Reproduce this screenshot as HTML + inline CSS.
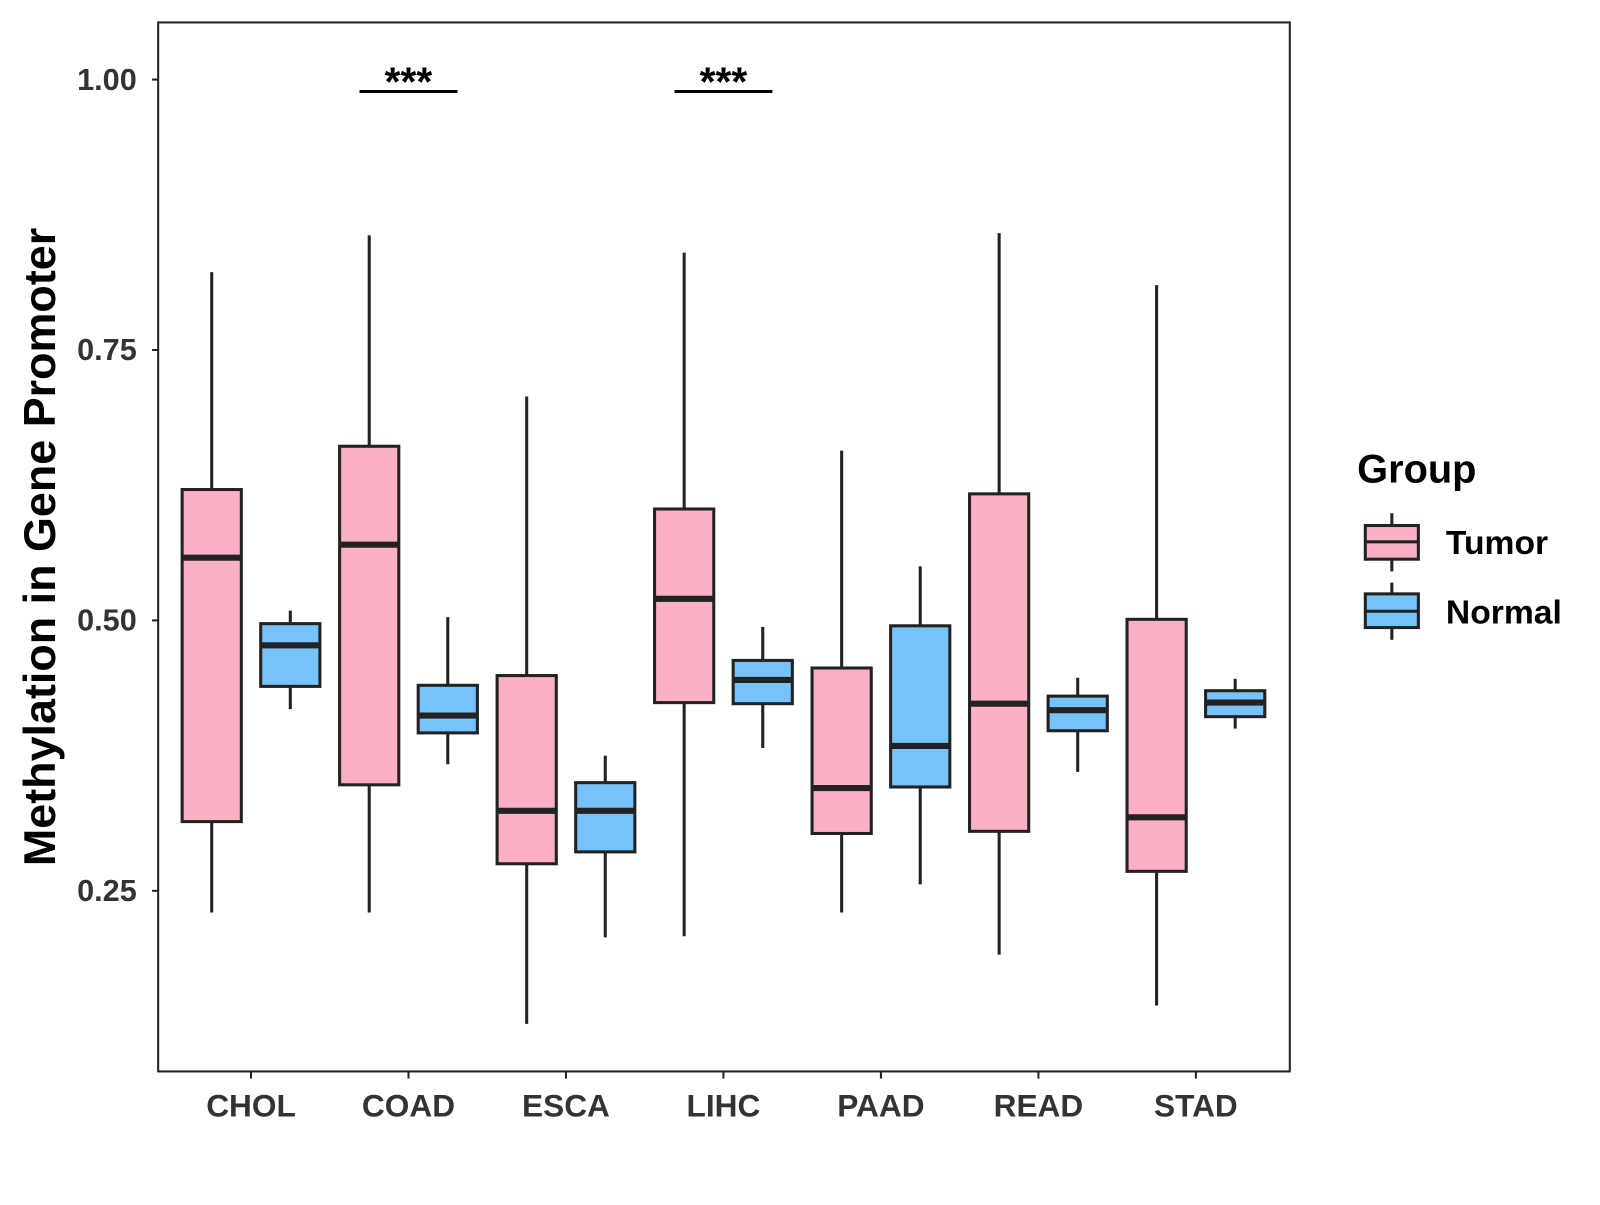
<!DOCTYPE html>
<html><head><meta charset="utf-8"><style>
body{margin:0;background:#fff}
svg text{font-family:"Liberation Sans",Arial,sans-serif;font-weight:bold}
</style></head><body>
<svg id="chart" width="1600" height="1200" viewBox="0 0 1568 1176" xmlns="http://www.w3.org/2000/svg">
<rect x="0" y="0" width="1568" height="1176" fill="#fff"/>
<g id="plot"></g>
<rect x="155" y="22" width="1109" height="1028" fill="none" stroke="#222" stroke-width="2"/>
<text transform="translate(54,536) rotate(-90)" text-anchor="middle" font-size="44" fill="#000">Methylation in Gene Promoter</text>
<g>
<text x="1330" y="473" font-size="39" fill="#000">Group</text>
<line x1="1364" y1="503" x2="1364" y2="560" stroke="#222" stroke-width="3"/>
<rect x="1338" y="515" width="52" height="33" fill="#FBB1C3" stroke="#222" stroke-width="3"/>
<line x1="1338" y1="531" x2="1390" y2="531" stroke="#222" stroke-width="3"/>
<text x="1417" y="543" font-size="33" fill="#000">Tumor</text>
<line x1="1364" y1="571" x2="1364" y2="627" stroke="#222" stroke-width="3"/>
<rect x="1338" y="582" width="52" height="33" fill="#77C2F8" stroke="#222" stroke-width="3"/>
<line x1="1338" y1="599" x2="1390" y2="599" stroke="#222" stroke-width="3"/>
<text x="1417" y="611" font-size="33" fill="#000">Normal</text>
</g>
</svg>
<script>
const categories=["CHOL","COAD","ESCA","LIHC","PAAD","READ","STAD"];
// [low, q1, median, q3, high]
const tumorStats=[[0.230,0.314,0.558,0.621,0.822],[0.230,0.348,0.570,0.661,0.856],[0.127,0.275,0.324,0.449,0.707],[0.208,0.424,0.520,0.603,0.840],[0.230,0.303,0.345,0.456,0.657],[0.191,0.305,0.423,0.617,0.858],[0.144,0.268,0.318,0.501,0.810]];
const normalStats=[[0.418,0.439,0.477,0.497,0.509],[0.367,0.396,0.412,0.440,0.503],[0.207,0.286,0.324,0.350,0.375],[0.382,0.423,0.445,0.463,0.494],[0.256,0.346,0.384,0.495,0.550],[0.360,0.398,0.417,0.430,0.447],[0.400,0.411,0.424,0.435,0.446]];
const yTicks=[0.25,0.50,0.75,1.00];
const yTickLabels=["0.25","0.50","0.75","1.00"];
const sigCategories=["COAD","LIHC"];
const sigLabels=["***","***"];
const sigLevel=0.989;

const NS="http://www.w3.org/2000/svg";
const g=document.getElementById("plot");
function y(v){return 78+(1-v)*1060;}
function x(i){return 246+i*154.33;}
function mk(t,a,p){const e=document.createElementNS(NS,t);for(const k in a)e.setAttribute(k,a[k]);(p||g).appendChild(e);return e;}

yTicks.forEach((v,i)=>{
  const t=mk("line",{x1:149,x2:155,y1:y(v),y2:y(v),stroke:"#222","stroke-width":2});
  
  
  const l=mk("text",{x:134,y:y(v)+10,"text-anchor":"end","font-size":30,fill:"#333"});
  l.textContent=yTickLabels[i];
  
  
});
categories.forEach((c,i)=>{
  const t=mk("line",{x1:x(i),x2:x(i),y1:1050,y2:1057,stroke:"#222","stroke-width":2});
  
  
  const l=mk("text",{x:x(i),y:1094,"text-anchor":"middle","font-size":31,fill:"#333"});
  l.textContent=c;
  
  
});
function box(s,cx,fill,name){
  const gg=mk("g",{});
  
  
  const hw=29;
  mk("line",{x1:cx,x2:cx,y1:y(s[4]),y2:y(s[0]),stroke:"#222","stroke-width":3},gg);
  mk("rect",{x:cx-hw,y:y(s[3]),width:2*hw,height:y(s[1])-y(s[3]),fill:fill,stroke:"#222","stroke-width":3},gg);
  mk("line",{x1:cx-hw,x2:cx+hw,y1:y(s[2]),y2:y(s[2]),stroke:"#222","stroke-width":6},gg);
}
categories.forEach((c,i)=>{
  box(tumorStats[i],x(i)-38.5,"#FBB1C3","box-tumor-"+c.toLowerCase());
  box(normalStats[i],x(i)+38.5,"#77C2F8","box-normal-"+c.toLowerCase());
});
sigCategories.forEach((c,k)=>{
  const i=categories.indexOf(c);
  const ln=mk("line",{x1:x(i)-48,x2:x(i)+48,y1:y(sigLevel),y2:y(sigLevel),stroke:"#000","stroke-width":3});
  
  
  const t=mk("text",{x:x(i),y:y(sigLevel)+4,"text-anchor":"middle","font-size":40,fill:"#000"});
  t.textContent=sigLabels[k];
  
  
});
</script>
</body></html>
